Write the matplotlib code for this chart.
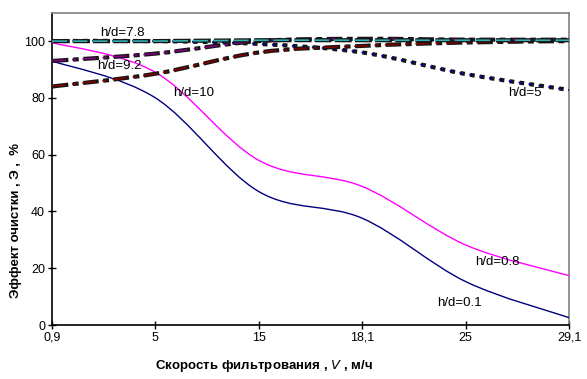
import numpy as np
import matplotlib
matplotlib.use("Agg")
import matplotlib.pyplot as plt
from matplotlib.path import Path
from matplotlib.patches import PathPatch

plt.rcParams['font.family'] = ['Liberation Sans', 'DejaVu Sans']
plt.rcParams['lines.scale_dashes'] = False

# ---- data ----
x_labels = ['0,9', '5', '15', '18,1', '25', '29,1']
hd_01 = [93, 80, 47, 37.6, 15.3, 2.6]
hd_08 = [99.5, 89, 58, 48.8, 28.2, 17.4]
hd_78 = [100, 100, 100.3, 100.3, 100.3, 100.3]
hd_92 = [93, 95.6, 100, 100.8, 100.5, 100.5]
hd_10 = [84, 88.5, 96, 98.3, 99.5, 100]
hd_5 = [100, 100, 99, 96, 88.4, 82.8]
y_ticks = [0, 20, 40, 60, 80, 100]


def smooth_path(xs, ys):
    """Excel-like smoothed line as cubic Bezier path through the data points."""
    pts = np.column_stack([xs, ys]).astype(float)
    n = len(pts)
    verts = [pts[0]]
    codes = [Path.MOVETO]
    for i in range(n - 1):
        p0 = pts[i - 1] if i > 0 else pts[i]
        p1 = pts[i]
        p2 = pts[i + 1]
        p3 = pts[i + 2] if i + 2 < n else pts[i + 1]
        c1 = p1 + (p2 - p0) / 6.0
        c2 = p2 - (p3 - p1) / 6.0
        verts += [c1, c2, p2]
        codes += [Path.CURVE4] * 3
    return Path(verts, codes)


fig = plt.figure(figsize=(5.87, 3.79), dpi=100)
ax = fig.add_axes([52 / 587, (379 - 325) / 379, (569 - 52) / 587, (325 - 12.7) / 379])

xs = np.arange(len(x_labels))

# solid lines
for ys, col in [(hd_01, '#000080'), (hd_08, '#FF00FF')]:
    ax.add_patch(PathPatch(smooth_path(xs, ys), fill=False, edgecolor=col, lw=1.0, zorder=3))

# dashed lines with dark outline
styles = [
    (hd_5, '#0000A0', [2.2, 5.0]),
    (hd_10, '#800000', [10, 4.5, 3, 4.5]),
    (hd_92, '#800080', [10, 4.5, 3, 4.5]),
    (hd_78, '#30B0B0', [11, 3.5]),
]
e = 0.6
z = 4
for ys, col, pat in styles:
    path = smooth_path(xs, ys)
    outer = []
    for k, v in enumerate(pat):
        outer.append(v + 2 * e if k % 2 == 0 else v - 2 * e)
    total = sum(pat)
    ax.add_patch(PathPatch(path, fill=False, edgecolor='#151515', lw=3.0,
                           linestyle=(total - e, outer), capstyle='butt', zorder=z))
    ax.add_patch(PathPatch(path, fill=False, edgecolor=col, lw=1.2,
                           linestyle=(0, pat), capstyle='butt', zorder=z + 0.5))
    z += 1

ax.set_xlim(0, len(x_labels) - 1)
ax.set_ylim(0, 110)
ax.set_xticks(xs)
ax.set_xticklabels(x_labels)
ax.set_yticks(y_ticks)
ax.tick_params(direction='inout', length=6, width=1, labelsize=9, pad=2)

for s in ['left', 'bottom']:
    ax.spines[s].set_color('black')
    ax.spines[s].set_linewidth(1.2)
for s in ['top', 'right']:
    ax.spines[s].set_color('#808080')
    ax.spines[s].set_linewidth(1.2)

fs = 9.5
ax.text(0.677, 103, 'h/d=7.8', fontsize=fs, ha='center', va='center', zorder=20)
ax.text(0.653, 91.4, 'h/d=9.2', fontsize=fs, ha='center', va='center', zorder=20)
ax.text(1.373, 81.7, 'h/d=10', fontsize=fs, ha='center', va='center', zorder=20)
ax.text(4.575, 81.8, 'h/d=5', fontsize=fs, ha='center', va='center', zorder=20)
ax.text(4.309, 22.3, 'h/d=0.8', fontsize=fs, ha='center', va='center', zorder=20)
ax.text(3.94, 7.9, 'h/d=0.1', fontsize=fs, ha='center', va='center', zorder=20)

fig.text(264 / 587, 1 - 366 / 379, r'Скорость фильтрования , $\mathbf{\mathit{V}}$ , м/ч',
         fontsize=9.5, fontweight='bold', ha='center', va='center')
fig.text(16 / 587, 1 - 221 / 379, 'Эффект очистки , Э ,  %',
         fontsize=9.5, fontweight='bold', ha='center', va='center', rotation=90)

fig.savefig('out.png', dpi=100)
